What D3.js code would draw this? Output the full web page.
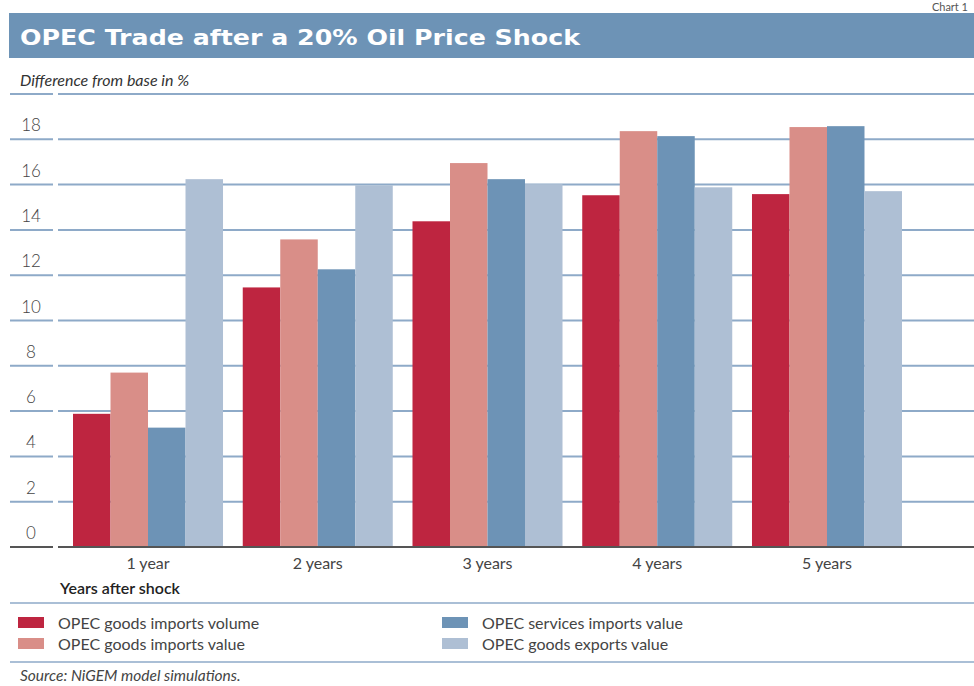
<!DOCTYPE html>
<html><head><meta charset="utf-8">
<script src="https://cdn.jsdelivr.net/npm/d3@7"></script>
<style>body{margin:0;background:#fff;} svg{display:block;}</style>
</head><body>
<script>
const categories = ["1 year","2 years","3 years","4 years","5 years"];
const seriesNames = ["OPEC goods imports volume","OPEC goods imports value","OPEC services imports value","OPEC goods exports value"];
const goodsImportsVolume = [5.88, 11.46, 14.38, 15.53, 15.58];
const goodsImportsValue  = [7.70, 13.58, 16.95, 18.36, 18.54];
const servicesImportsValue = [5.27, 12.26, 16.24, 18.14, 18.58];
const goodsExportsValue  = [16.24, 15.97, 16.02, 15.88, 15.71];
const yTicks = [0,2,4,6,8,10,12,14,16,18];
const gridValues = [2,4,6,8,10,12,14,16,18,20];
const colors = ["#be2540","#d98e88","#6d93b6","#aebfd4"];

const series = [goodsImportsVolume, goodsImportsValue, servicesImportsValue, goodsExportsValue];
const W = 974, H = 686;
const font = "Lato, 'Open Sans', sans-serif";
const svg = d3.select("body").append("svg").attr("width", W).attr("height", H);

// Chart label top right
svg.append("text").attr("x", 968).attr("y", 11).attr("text-anchor", "end").attr("font-family", font).attr("font-size", 11)
  .attr("fill", "#555").text("Chart 1");

// Title bar
svg.append("rect").attr("x", 9).attr("y", 13).attr("width", W - 9).attr("height", 45).attr("fill", "#6d93b6");
svg.append("text").attr("x", 20).attr("y", 45).attr("font-family", "'DejaVu Sans', sans-serif")
  .attr("font-weight", "bold").attr("font-size", 22).attr("fill", "#fff")
  .attr("textLength", 560).attr("lengthAdjust", "spacingAndGlyphs")
  .text("OPEC Trade after a 20% Oil Price Shock");

svg.append("text").attr("x", 20).attr("y", 86).attr("font-family", font).attr("font-style", "italic")
  .attr("font-size", 16).attr("fill", "#333").text("Difference from base in %");

const y = d3.scaleLinear().domain([0, 20]).range([547, 94]);
const x0 = d3.scaleBand().domain(categories).range([58, 917]).paddingInner(0.1163).paddingOuter(0.0884);
const x1 = d3.scaleBand().domain(d3.range(4)).range([0, x0.bandwidth()]);

// Gridlines
const grid = svg.append("g");
gridValues.forEach(v => {
  grid.append("line").attr("x1", 10).attr("x2", 53).attr("y1", y(v)).attr("y2", y(v))
    .attr("stroke", "#8eaac8").attr("stroke-width", 2);
  grid.append("line").attr("x1", 58).attr("x2", W).attr("y1", y(v)).attr("y2", y(v))
    .attr("stroke", "#8eaac8").attr("stroke-width", 2);
});

// Y tick labels
svg.append("g").selectAll("text").data(yTicks).join("text")
  .attr("x", 31).attr("y", d => y(d) - 8).attr("text-anchor", "middle")
  .attr("font-family", font).attr("font-weight", 300).attr("font-size", 17).attr("fill", "#444").text(d => d);

// Bars
const groups = svg.append("g").selectAll("g").data(categories).join("g")
  .attr("transform", d => `translate(${x0(d)},0)`);
groups.selectAll("rect").data((d, i) => series.map((s, j) => ({j, v: s[i]}))).join("rect")
  .attr("x", d => x1(d.j)).attr("width", x1.bandwidth())
  .attr("y", d => y(d.v)).attr("height", d => y(0) - y(d.v))
  .attr("fill", d => colors[d.j]);

// Baseline
svg.append("line").attr("x1", 10).attr("x2", 53).attr("y1", y(0)).attr("y2", y(0)).attr("stroke", "#555").attr("stroke-width", 2);
svg.append("line").attr("x1", 58).attr("x2", W).attr("y1", y(0)).attr("y2", y(0)).attr("stroke", "#555").attr("stroke-width", 2);

// Category labels
svg.append("g").selectAll("text").data(categories).join("text")
  .attr("x", d => x0(d) + x0.bandwidth() / 2).attr("y", 569).attr("text-anchor", "middle")
  .attr("font-family", font).attr("font-size", 16).attr("fill", "#444").text(d => d);

svg.append("text").attr("x", 60).attr("y", 594).attr("font-family", font).attr("font-weight", 600)
  .attr("font-size", 16).attr("fill", "#222").text("Years after shock");

[603, 662].forEach(yy => svg.append("line").attr("x1", 10).attr("x2", W).attr("y1", yy).attr("y2", yy)
  .attr("stroke", "#8eaac8").attr("stroke-width", 1.5));

// Legend
const legPos = [[18, 617], [18, 638], [442, 617], [442, 638]];
seriesNames.forEach((n, i) => {
  const [lx, ly] = legPos[i];
  svg.append("rect").attr("x", lx).attr("y", ly).attr("width", 26).attr("height", 11).attr("fill", colors[i]);
  svg.append("text").attr("x", lx + 40).attr("y", ly + 12).attr("font-family", font).attr("font-size", 16)
    .attr("fill", "#444").text(n);
});

svg.append("text").attr("x", 20).attr("y", 681).attr("font-family", font).attr("font-style", "italic")
  .attr("font-size", 15.5).attr("fill", "#444").text("Source: NiGEM model simulations.");
</script>
</body></html>
